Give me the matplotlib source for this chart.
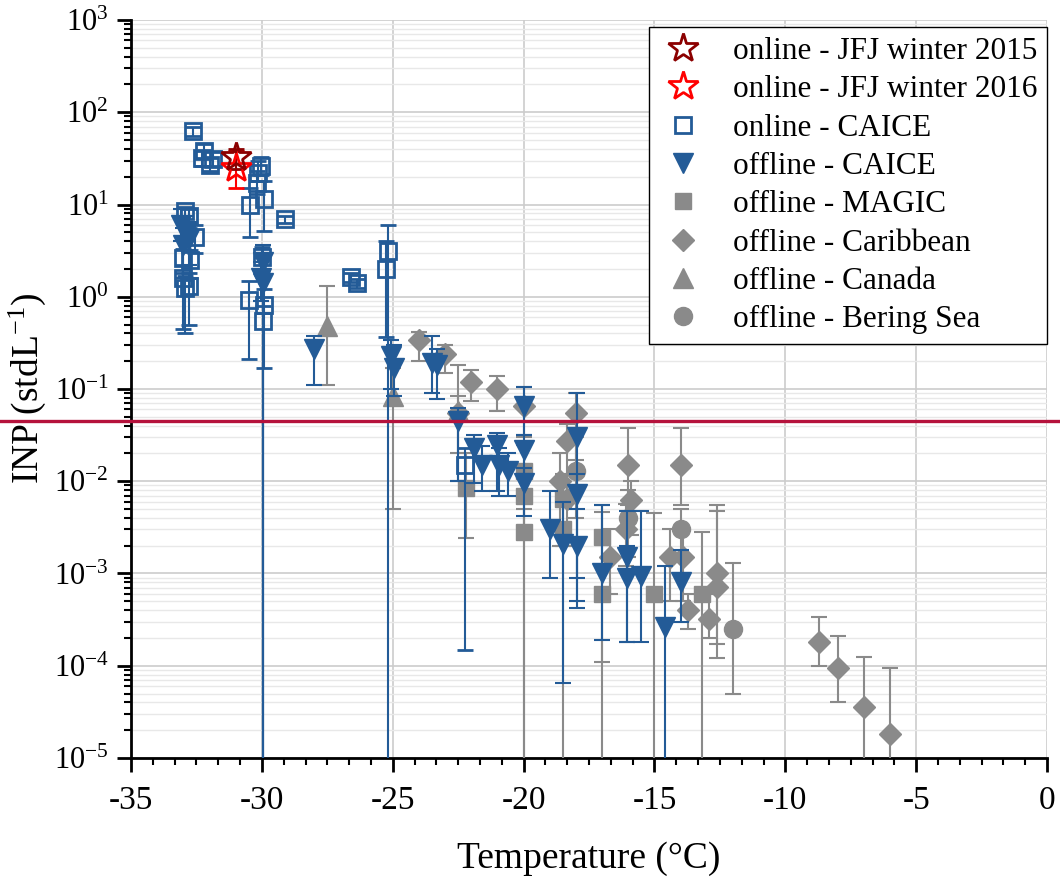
import numpy as np
import matplotlib
matplotlib.use('Agg')
import matplotlib.pyplot as plt
from matplotlib.ticker import MultipleLocator, LogLocator, NullFormatter
from matplotlib.lines import Line2D

plt.rcParams['font.family'] = ['Liberation Serif', 'DejaVu Serif']
plt.rcParams['mathtext.fontset'] = 'custom'
plt.rcParams['mathtext.rm'] = 'Liberation Serif'
plt.rcParams['mathtext.it'] = 'Liberation Serif:italic'
plt.rcParams['axes.unicode_minus'] = False

BLUE = '#235b97'
GRAY = '#8a8a8a'

# online - JFJ winter 2015 / 2016
jfj15_t = [-31.0]
jfj15_v = [33]
jfj15_lo = [24]
jfj15_hi = [40]
jfj16_t = [-31.0]
jfj16_v = [25]
jfj16_lo = [15]
jfj16_hi = [38]

# online - CAICE
on_t = [-32.65, -32.3, -32.2, -32.0, -31.85, -30.15, -30.05, -30.2, -30.45, -29.9, -29.1,
        -32.95, -32.8, -32.55, -33.0, -32.75, -33.0, -32.95, -32.8, -30.0, -30.5, -29.9,
        -29.97, -26.6, -26.35, -25.2, -25.25, -22.25]
on_v = [62, 32, 38, 27, 31, 22, 26, 17, 10, 11.5, 7, 8.5, 7.5, 4.5, 2.6, 2.5, 1.6, 1.25,
        1.3, 2.7, 0.93, 0.82, 0.55, 1.65, 1.4, 3.1, 2.0, 0.015]
on_lo = [55, 26, 32, 23, 26, 18, 21, 13, 4.5, 5.2, 6.3, 6, 5.5, 3, 1.8, 1.6, 0.45, 0.4,
         0.5, 1.9, 0.21, 0.17, 1e-7, 1.45, 1.25, 1e-7, 0.37, 1.5e-4]
on_hi = [70, 38, 45, 32, 37, 30, 33, 23, 15, 18, 7.6, 9.5, 9, 6, 3.3, 3.2, 2.2, 1.7,
         1.8, 3.5, 1.5, 1.2, 0.8, 1.8, 1.55, 6.0, 4.0, 0.023]

# offline - CAICE
off_t = [-33.1, -32.9, -33.0, -32.8, -29.97, -29.97, -30.05, -28.0, -25.05, -24.95, -23.5,
         -23.3, -22.5, -21.9, -21.6, -21.0, -20.95, -20.6, -20.0, -20.0, -20.0, -19.0,
         -18.5, -17.95, -17.95, -17.95, -17.0, -16.05, -16.05, -15.5, -14.6, -14.0]
off_v = [6.0, 5.0, 3.6, 4.2, 2.4, 1.4, 1.6, 0.27, 0.23, 0.17, 0.19, 0.18, 0.045, 0.023,
         0.015, 0.025, 0.015, 0.013, 0.065, 0.022, 0.0095, 0.003, 0.0021, 0.03, 0.0072,
         0.002, 0.001, 0.0015, 0.0009, 0.00095, 0.00026, 0.0008]
off_lo = [4.0, 3.2, 1.6, 2.2, 1e-7, 1e-7, 0.9, 0.11, 0.1, 0.085, 0.09, 0.078, 0.01,
          0.0095, 0.0078, 0.0078, 0.007, 0.007, 0.032, 0.011, 0.0042, 0.0009, 6.5e-5,
          0.00042, 0.0009, 0.0005, 0.00019, 0.00018, 0.00018, 0.00018, 1e-7, 0.0003]
off_hi = [9.0, 7.5, 5.5, 6.5, 3.6, 2.6, 2.4, 0.38, 0.34, 0.3, 0.38, 0.27, 0.062, 0.032,
          0.024, 0.033, 0.023, 0.02, 0.105, 0.032, 0.014, 0.0078, 0.006, 0.09, 0.012,
          0.005, 0.0055, 0.0048, 0.002, 0.0048, 0.0012, 0.0018]

# offline - MAGIC
mag_t = [-22.2, -20.0, -20.0, -20.0, -18.5, -18.5, -17.0, -17.0, -15.0, -13.2]
mag_v = [0.0085, 0.013, 0.007, 0.0028, 0.0065, 0.003, 0.0025, 0.0006, 0.0006, 0.0006]
mag_lo = [0.0024, 1e-7, 0.003, 1e-7, 0.002, 1e-7, 0.00011, 1e-7, 1e-7, 1e-7]
mag_hi = [0.02, 0.025, 0.011, 0.005, 0.012, 0.006, 0.0055, 0.0046, 0.0045, 0.0028]

# offline - Caribbean
car_t = [-24.0, -23.0, -22.0, -21.0, -22.5, -20.0, -18.0, -18.35, -18.6, -18.35, -16.0,
         -14.0, -15.9, -16.1, -16.7, -14.4, -13.9, -13.7, -12.9, -12.6, -12.6, -8.7,
         -8.0, -7.0, -6.0]
car_v = [0.34, 0.24, 0.12, 0.1, 0.055, 0.065, 0.055, 0.027, 0.01, 0.0065, 0.015, 0.015,
         0.0063, 0.003, 0.0015, 0.0015, 0.0015, 0.0004, 0.00032, 0.001, 0.00072, 0.00018,
         0.000095, 0.000036, 0.000018]
car_lo = [0.2, 0.15, 0.075, 0.058, 0.01, 0.03, 0.017, 0.006, 0.002, 0.002, 0.0055, 0.0055,
          0.0026, 0.0012, 0.0006, 0.0005, 0.0005, 0.00025, 0.0002, 0.00012, 0.00017,
          0.0001, 0.00004, 1e-7, 1e-7]
car_hi = [0.41, 0.3, 0.16, 0.14, 0.18, 0.105, 0.09, 0.042, 0.02, 0.012, 0.038, 0.038,
          0.01, 0.0056, 0.003, 0.003, 0.003, 0.0006, 0.0006, 0.0055, 0.0047, 0.00034,
          0.00021, 0.000125, 0.000095]

# offline - Canada
can_t = [-27.5, -25.0, -22.5]
can_v = [0.48, 0.085, 0.058]
can_lo = [0.11, 0.005, 0.02]
can_hi = [1.3, 0.17, 0.085]

# offline - Bering Sea
ber_t = [-18.0, -16.0, -14.0, -12.0]
ber_v = [0.013, 0.004, 0.003, 0.00025]
ber_lo = [0.004, 0.0015, 0.0015, 0.00005]
ber_hi = [0.03, 0.008, 0.005, 0.0013]

threshold = 0.045


def errs(v, lo, hi):
    v = np.array(v)
    return [v - np.array(lo), np.array(hi) - v]


fig = plt.figure(figsize=(10.6, 8.82), dpi=100)
ax = fig.add_axes([0.1236, 0.1406, 0.8642, 0.8367])

ekw = dict(linestyle='none', capsize=6, elinewidth=1.5, capthick=1.5)

ax.errorbar(car_t, car_v, yerr=errs(car_v, car_lo, car_hi), marker='D', ms=11.5, color=GRAY,
            mec=GRAY, ecolor=GRAY, zorder=3, **ekw)
ax.errorbar(mag_t, mag_v, yerr=errs(mag_v, mag_lo, mag_hi), marker='s', ms=11, color=GRAY,
            mec=GRAY, ecolor=GRAY, zorder=3, **ekw)
ax.errorbar(can_t, can_v, yerr=errs(can_v, can_lo, can_hi), marker='^', ms=15, color=GRAY,
            mec=GRAY, ecolor=GRAY, zorder=3, **ekw)
ax.errorbar(ber_t, ber_v, yerr=errs(ber_v, ber_lo, ber_hi), marker='o', ms=13, color=GRAY,
            mec=GRAY, ecolor=GRAY, zorder=3, **ekw)
ax.errorbar(off_t, off_v, yerr=errs(off_v, off_lo, off_hi), marker='v', ms=15, color=BLUE,
            mec=BLUE, ecolor=BLUE, zorder=4, **ekw)
ax.errorbar(on_t, on_v, yerr=errs(on_v, on_lo, on_hi), marker='s', ms=12, mfc='none',
            mec=BLUE, mew=2, ecolor=BLUE, zorder=5, **ekw)
ax.errorbar(jfj16_t, jfj16_v, yerr=errs(jfj16_v, jfj16_lo, jfj16_hi), marker='*', ms=22,
            mfc='none', mec='#ff0000', mew=2, ecolor='#ff0000', zorder=6, **ekw)
ax.errorbar(jfj15_t, jfj15_v, yerr=errs(jfj15_v, jfj15_lo, jfj15_hi), marker='*', ms=22,
            mfc='none', mec='#8b0000', mew=2, ecolor='#8b0000', zorder=6, **ekw)

ax.axhline(threshold, xmin=-131 / 916, xmax=(1060 - 131) / 916, clip_on=False,
           color='#b5123c', lw=2.4, zorder=7)

ax.set_yscale('log')
ax.set_xlim(-35, 0)
ax.set_ylim(1e-5, 1e3)
ax.xaxis.set_major_locator(MultipleLocator(5))
ax.xaxis.set_minor_locator(MultipleLocator(5 / 6))
ax.yaxis.set_major_locator(LogLocator(base=10, numticks=20))
ax.yaxis.set_minor_locator(LogLocator(base=10, subs=np.arange(2, 10), numticks=20))
ax.yaxis.set_minor_formatter(NullFormatter())

ax.set_axisbelow(True)
ax.grid(True, which='major', axis='x', color='#cccccc', lw=1.2)
ax.grid(True, which='major', axis='y', color='#cccccc', lw=1.2)
ax.grid(True, which='minor', axis='y', color='#e8e8e8', lw=1.0)

for s in ['top', 'right']:
    ax.spines[s].set_visible(False)
for s in ['left', 'bottom']:
    ax.spines[s].set_linewidth(2)

ax.tick_params(axis='both', which='major', direction='out', length=10, width=2, pad=6)
ax.tick_params(axis='x', which='major', labelsize=24, pad=10)
ax.tick_params(axis='y', which='major', labelsize=22)
ax.tick_params(axis='both', which='minor', direction='out', length=5, width=1.5)

ax.set_xlabel('Temperature (°C)', fontsize=27, labelpad=18)
ax.set_ylabel('INP (stdL$^{-1}$)', fontsize=27, labelpad=4)

handles = [
    Line2D([], [], ls='none', marker='*', ms=22, mfc='none', mec='#8b0000', mew=2),
    Line2D([], [], ls='none', marker='*', ms=22, mfc='none', mec='#ff0000', mew=2),
    Line2D([], [], ls='none', marker='s', ms=12, mfc='none', mec=BLUE, mew=2),
    Line2D([], [], ls='none', marker='v', ms=15, color=BLUE),
    Line2D([], [], ls='none', marker='s', ms=11, color=GRAY),
    Line2D([], [], ls='none', marker='D', ms=11.5, color=GRAY),
    Line2D([], [], ls='none', marker='^', ms=15, color=GRAY),
    Line2D([], [], ls='none', marker='o', ms=13, color=GRAY),
]
labels = ['online - JFJ winter 2015', 'online - JFJ winter 2016', 'online - CAICE',
          'offline - CAICE', 'offline - MAGIC', 'offline - Caribbean', 'offline - Canada',
          'offline - Bering Sea']
leg = ax.legend(handles, labels, loc='upper right', bbox_to_anchor=(1.0, 0.99),
                fontsize=22.5, frameon=True, fancybox=False, framealpha=1,
                edgecolor='black', borderaxespad=0, labelspacing=0.3,
                handletextpad=0.8, borderpad=0.3, handlelength=1.6)
leg.get_frame().set_linewidth(1.0)
leg.set_zorder(10)

fig.savefig('out.png', dpi=100)
